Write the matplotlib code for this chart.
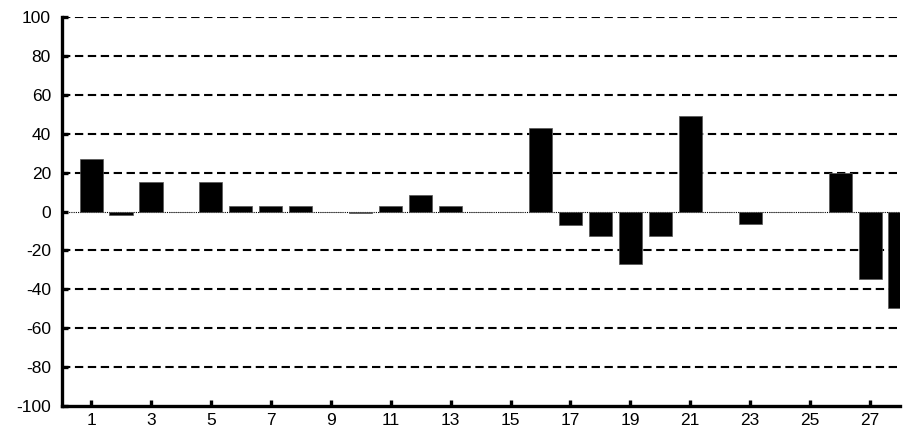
import numpy as np
import matplotlib.pyplot as plt

# values
positions = np.arange(1, 29)
values = [27, -2, 15, 0, 15, 3, 3, 3, 0, -0.5,
          3, 8.5, 3, 0, 0, 43, -7, -12.7, -27, -12.7,
          49.3, 0, -6.3, 0, 0, 20, -34.5, -49.6]
x_ticks = list(range(1, 28, 2))
y_ticks = list(range(-100, 101, 20))

plt.rcParams['font.family'] = ['Liberation Sans', 'DejaVu Sans']

fig = plt.figure(figsize=(9.05, 4.32), dpi=100)
ax = fig.add_axes([0.0685, 0.060, 0.926, 0.9006])

# dashed grid lines (not at 0 and -100)
for y in y_ticks:
    if y in (0, -100):
        continue
    ax.axhline(y, color="black", linestyle=(0, (4, 2.2)), linewidth=1.5, zorder=1)

# dotted baseline
ax.axhline(0, color="black", linestyle=(0, (1, 1)), linewidth=0.8, zorder=1)

ax.bar(positions, values, width=0.77, color="black", edgecolor="#555555",
       linewidth=0.5, zorder=2)

ax.set_xlim(0.03, 28.0)
ax.set_ylim(-100, 100)
ax.set_xticks(x_ticks)
ax.set_yticks(y_ticks)
ax.set_xticklabels([str(t) for t in x_ticks])
ax.set_yticklabels([str(t) for t in y_ticks])

for side in ("top", "right"):
    ax.spines[side].set_visible(False)
for side in ("left", "bottom"):
    ax.spines[side].set_linewidth(2.4)
    ax.spines[side].set_color("black")

ax.tick_params(axis="both", direction="in", length=4, width=2.4,
               labelsize=12.5, colors="black")
ax.tick_params(axis="y", pad=8)
ax.tick_params(axis="x", pad=5)

fig.savefig("out.png", dpi=100)
